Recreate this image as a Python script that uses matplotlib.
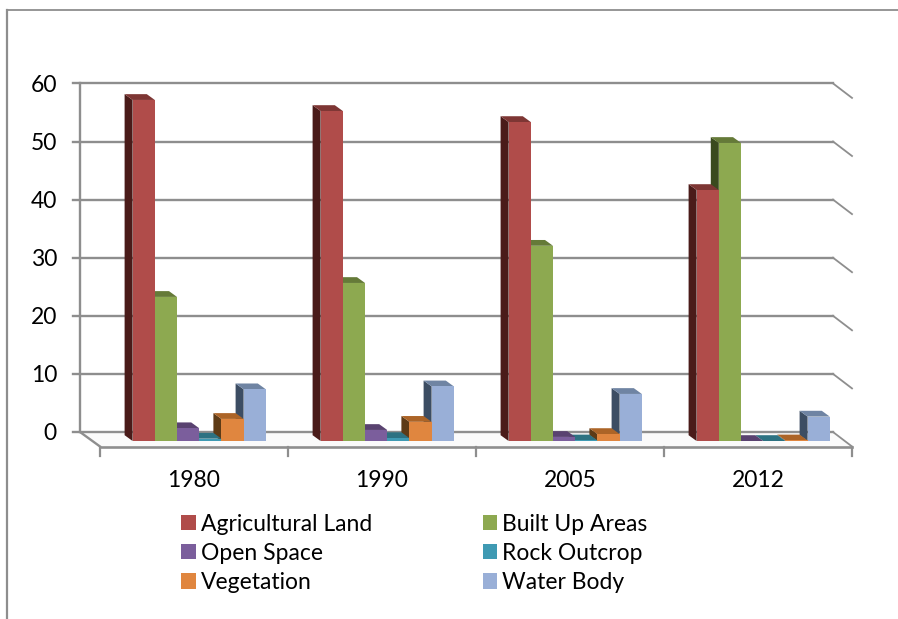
import matplotlib
matplotlib.use('Agg')
import matplotlib.pyplot as plt
from matplotlib.patches import Patch, Polygon
from matplotlib.lines import Line2D

plt.rcParams['font.family'] = ['Lato', 'DejaVu Sans']

years = ['1980', '1990', '2005', '2012']
y_ticks = [0, 10, 20, 30, 40, 50, 60]

agricultural = [58.7, 56.8, 54.9, 43.2]
built_up = [24.8, 27.2, 33.6, 51.3]
open_space = [2.2, 1.9, 0.7, 0.0]
rock = [0.4, 0.5, 0.1, 0.0]
vegetation = [3.8, 3.3, 1.2, 0.1]
water = [8.9, 9.4, 8.1, 4.2]

names = ['Agricultural Land', 'Built Up Areas', 'Open Space', 'Rock Outcrop', 'Vegetation', 'Water Body']
series = [agricultural, built_up, open_space, rock, vegetation, water]
# front, top, side
colors = [('#B04C4A', '#7E3634', '#4A1B19'),
          ('#8DA950', '#657A38', '#3A4A1E'),
          ('#7B5E9C', '#594270', '#392A4C'),
          ('#3F9AB3', '#2D7282', '#1E4B56'),
          ('#E0863F', '#AC6427', '#5E3B16'),
          ('#99AFD7', '#6F84A3', '#3C4D63')]
grey = '#8E8E8E'

fig = plt.figure(figsize=(8.98, 6.19), dpi=100)
# x = 0..4 is the front edge of the floor, y = 0 the foot of the bars
ax = fig.add_axes([100 / 898, (619 - 441) / 619, 752 / 898, 348.6 / 619])
ax.set_xlim(0, 4)
ax.set_ylim(0, 60)
ax.axis('off')

px_x = 4 / 752
px_y = 60 / 348.6


def wall(v):
    return v + 9 * px_y


# floor
floor_y = -5.5 * px_y
back = -20 * px_x
ax.add_patch(Polygon([(back, wall(0)), (4 - 19 * px_x, wall(0)), (4, floor_y), (0, floor_y)],
                     closed=True, fc='#FAFAFA', ec='none', clip_on=False, zorder=1))

# wall lines
for v in y_ticks:
    ax.plot([back - 7 * px_x, 4 - 19 * px_x], [wall(v), wall(v)], color=grey, lw=1.7, clip_on=False, zorder=2)
    ax.plot([4 - 19 * px_x, 4], [wall(v), wall(v) - 14.5 * px_y], color=grey, lw=1.3, clip_on=False, zorder=2)
    ax.text(-43 * px_x, wall(v) - 2 * px_y, str(v), ha='right', va='center', fontsize=16.5, color='black', clip_on=False)
ax.plot([back, back], [wall(0), wall(60)], color=grey, lw=1.7, clip_on=False, zorder=2)
ax.plot([back, 0], [wall(0), floor_y], color=grey, lw=1.7, clip_on=False, zorder=2)
ax.plot([0, 4], [floor_y, floor_y], color=grey, lw=1.9, clip_on=False, zorder=2)
for i in range(5):
    ax.plot([i, i], [floor_y, floor_y - 9 * px_y], color=grey, lw=1.6, clip_on=False, zorder=2)
for i, year in enumerate(years):
    ax.text(i + 0.5, floor_y - 34 * px_y, year, ha='center', va='center', fontsize=16.5, clip_on=False)

# bars, right to left so nearer ones cover the sides of the next
width = 22.2 * px_x
start = 32.6 * px_x
dx = 8 * px_x
dy = 5.8 * px_y
z = 3
for g in range(3, -1, -1):
    for s in range(5, -1, -1):
        v = series[s][g]
        x0 = g + start + s * width
        front, top, side = colors[s]
        ax.add_patch(Polygon([(x0, 0), (x0, v), (x0 - dx, v + dy), (x0 - dx, dy)],
                             closed=True, fc=side, ec='none', clip_on=False, zorder=z))
        ax.add_patch(Polygon([(x0, v), (x0 + width, v), (x0 + width - dx, v + dy), (x0 - dx, v + dy)],
                             closed=True, fc=top, ec='none', clip_on=False, zorder=z))
        ax.bar(x0, v, width=width, align='edge', color=front, clip_on=False, zorder=z)
        z += 1

# legend, rows read left to right
handles = [Patch(fc=colors[s][0], ec='none') for s in range(6)]
order = [0, 2, 4, 1, 3, 5]
fig.legend([handles[i] for i in order], [names[i] for i in order], ncol=2, frameon=False,
           loc='upper left', bbox_to_anchor=(174.5 / 898, 1 - 507 / 619), fontsize=16.5,
           handlelength=0.65, handleheight=0.65, handletextpad=0.2, labelspacing=0.35,
           columnspacing=4.82, borderpad=0.3, borderaxespad=0)

# outer frame
fig.add_artist(Line2D([7 / 898, 1], [1 - 10 / 619, 1 - 10 / 619], color=grey, lw=1.3))
fig.add_artist(Line2D([7 / 898, 7 / 898], [1 - 10 / 619, 0], color=grey, lw=1.6))

fig.savefig('out.png', dpi=100)
